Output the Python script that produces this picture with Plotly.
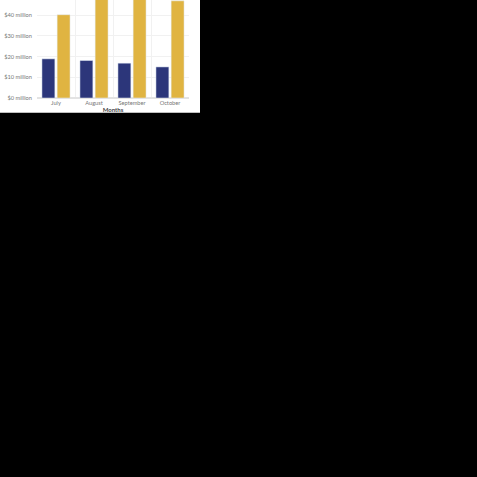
import plotly.graph_objects as go

months = ["July", "August", "September", "October"]
series_a = [18.9, 18.1, 16.8, 15.0]
series_b = [40.2, 52.0, 55.0, 46.9]
tick_vals = [0, 10, 20, 30, 40]
tick_text = ["$0 million", "$10 million", "$20 million", "$30 million", "$40 million"]

W, H = 477, 477
left, right_edge, plot_bottom = 37, 189, 98.3
plot_w = right_edge - left
plot_h = plot_bottom

fig = go.Figure()
fig.add_trace(go.Bar(x=months, y=series_a, name="Costs", marker_color="#2C367A"))
fig.add_trace(go.Bar(x=months, y=series_b, name="Revenue", marker_color="#E0B441"))

# white card in the top-left corner, everything else black
fig.add_shape(type="rect", xref="paper", yref="paper", layer="below",
              x0=-left / plot_w, x1=(200 - left) / plot_w,
              y0=-(113 - plot_bottom) / plot_h, y1=1,
              fillcolor="white", line_width=0)

fig.update_layout(
    width=W, height=H,
    margin=dict(l=left, r=W - right_edge, t=0, b=H - plot_bottom, pad=0),
    paper_bgcolor="black", plot_bgcolor="white",
    barmode="group", bargap=0.2, bargroupgap=0.15,
    showlegend=False,
    font=dict(family="Lato", size=5.7, color="#777777"),
)
fig.update_xaxes(showgrid=True, gridcolor="#F1F1F1", gridwidth=1, tickson="boundaries",
                 ticks="", ticklabelstandoff=0,
                 title=dict(text="<b>Months</b>", font=dict(size=6, color="#444444"), standoff=0))
fig.update_yaxes(range=[0, 47.3], tickvals=tick_vals, ticktext=tick_text,
                 showgrid=True, gridcolor="#F1F1F1", zeroline=True, zerolinecolor="#E3E3E3",
                 ticks="", ticklabelstandoff=4)

fig.write_html("out.html", config={"displayModeBar": False},
               post_script="document.body.style.margin='0';document.body.style.background='black';")
